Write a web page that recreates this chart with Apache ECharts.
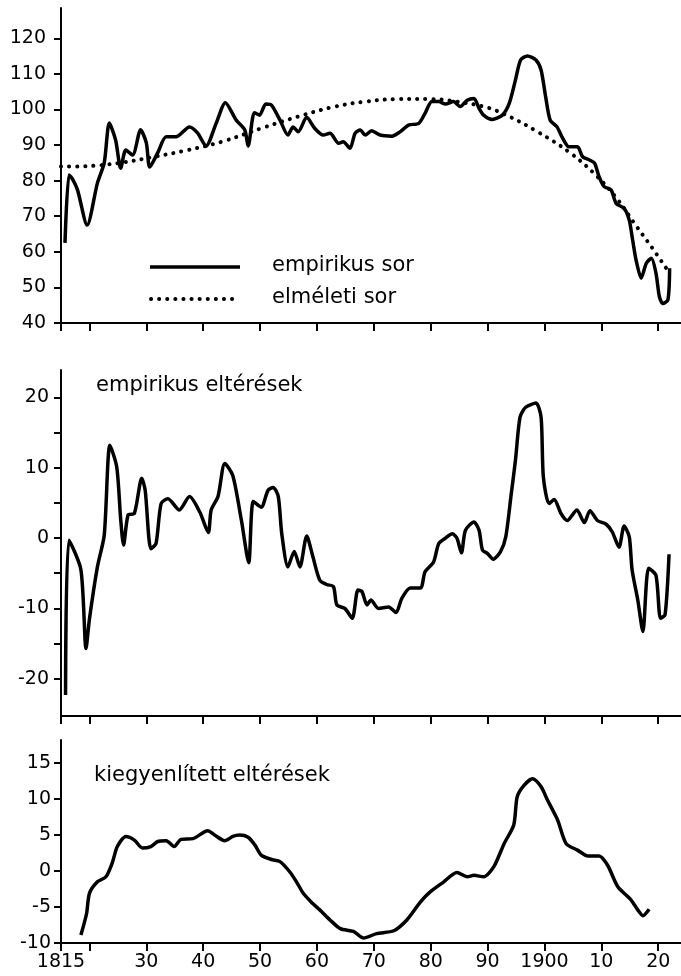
<!DOCTYPE html>
<html>
<head>
<meta charset="utf-8">
<script src="https://cdn.jsdelivr.net/npm/echarts@6/dist/echarts.min.js"></script>
<style>
html, body { margin: 0; padding: 0; background: #fff; }
#chart { width: 681px; height: 976px; }
</style>
</head>
<body>
<div id="chart"></div>
<script>
// empirikus sor (top panel)
const empYears = [1815.7, 1816.4, 1817.0, 1817.9, 1819.6, 1821.4, 1822.6, 1823.5, 1824.6, 1825.5, 1826.4, 1827.6, 1829.0, 1830.0, 1830.6, 1832.0, 1833.5, 1835.2, 1837.6, 1839.0, 1840.5, 1842.3, 1843.9, 1845.8, 1847.3, 1847.9, 1849.0, 1849.9, 1851.0, 1852.0, 1853.5, 1854.9, 1855.8, 1856.7, 1858.2, 1859.6, 1861.1, 1862.3, 1863.8, 1864.6, 1865.8, 1866.7, 1867.6, 1868.5, 1869.6, 1871.1, 1873.2, 1874.6, 1876.1, 1877.9, 1879.0, 1880.2, 1881.4, 1882.6, 1884.0, 1885.2, 1886.4, 1887.6, 1888.5, 1889.3, 1890.8, 1892.6, 1893.8, 1894.9, 1895.8, 1897.0, 1898.5, 1899.4, 1900.2, 1901.0, 1902.2, 1903.2, 1904.3, 1905.8, 1906.7, 1907.9, 1908.8, 1909.6, 1910.5, 1911.7, 1912.6, 1914.0, 1914.9, 1915.5, 1916.1, 1917.0, 1917.9, 1918.8, 1919.6, 1920.2, 1920.8, 1921.7, 1922.0];
const empValues = [62.5, 81.6, 80.5, 77.4, 67.5, 79.3, 85, 96.2, 91.4, 83.5, 88.6, 87.2, 94.3, 90.6, 83.8, 87.8, 92.3, 92.3, 95.1, 93.4, 89.7, 96.2, 101.9, 97, 94.3, 89.7, 99.1, 98.4, 101.5, 101.2, 97, 92.8, 95.1, 93.7, 97.8, 94.7, 92.8, 93.3, 90.5, 90.9, 89.1, 93.3, 94.2, 92.8, 94, 92.8, 92.5, 93.7, 95.6, 96.1, 98.9, 102.2, 102.2, 101.5, 102.2, 100.8, 102.6, 103.1, 100.3, 98.4, 97.2, 98.4, 101.7, 108.3, 113.9, 115, 113.9, 111.1, 103.6, 97, 95.1, 91.9, 89.5, 89.5, 86.7, 85.8, 84.9, 81.1, 78.3, 77.4, 73.6, 72.2, 68.9, 63.3, 57.7, 52.6, 56.8, 58.2, 54, 47.4, 45.5, 46.5, 55.4];

// elméleti sor (dotted)
const theoYears = [1815, 1818, 1821, 1825.5, 1831.4, 1837.3, 1843.2, 1850.8, 1856.7, 1862.6, 1868.5, 1874.4, 1880.2, 1884.5, 1889.3, 1892.9, 1898.8, 1904.6, 1909.3, 1912.9, 1915.8, 1918.8, 1921.4];
const theoValues = [84, 84, 84.2, 85, 86.7, 88.6, 90.9, 95, 98, 100.6, 102.2, 102.9, 102.9, 102.2, 100.8, 98.7, 93.7, 87.7, 81.1, 74.6, 68, 61.4, 55.4];

// empirikus eltérések (middle panel)
const devYears = [1815.8, 1816.4, 1818.5, 1819.4, 1820.0, 1821.4, 1822.6, 1823.6, 1824.8, 1825.5, 1826.0, 1826.8, 1827.9, 1829.2, 1829.8, 1830.8, 1831.7, 1832.6, 1833.8, 1835.8, 1837.6, 1839.4, 1840.9, 1841.4, 1842.6, 1843.8, 1845.2, 1846.7, 1848.0, 1848.8, 1850.2, 1851.4, 1852.3, 1853.2, 1853.8, 1854.9, 1856.0, 1857.0, 1858.2, 1859.3, 1860.5, 1861.7, 1862.9, 1863.5, 1864.9, 1866.2, 1867.2, 1867.9, 1868.8, 1869.5, 1870.8, 1872.6, 1873.9, 1874.9, 1876.4, 1878.2, 1879.0, 1880.5, 1881.4, 1882.6, 1883.8, 1884.6, 1885.4, 1886.1, 1887.6, 1888.5, 1889.1, 1890.0, 1891.0, 1892.3, 1893.2, 1894.1, 1894.9, 1895.7, 1896.7, 1898.5, 1899.4, 1899.8, 1900.8, 1901.7, 1902.9, 1904.0, 1905.7, 1907.0, 1908.0, 1909.3, 1910.8, 1911.9, 1913.1, 1914.0, 1914.9, 1915.4, 1916.4, 1917.3, 1918.3, 1919.6, 1920.4, 1921.2, 1921.9];
const devValues = [-22.3, -0.3, -4.5, -15.7, -11.5, -4.1, 0.4, 13.2, 10.1, 2.6, -1, 3.3, 3.5, 8.5, 6.8, -1.5, -0.8, 4.9, 5.6, 4, 5.9, 3.7, 0.8, 4, 5.9, 10.6, 8.9, 2.6, -3.5, 5.2, 4.4, 6.8, 7.2, 5.9, 0.7, -4.1, -1.9, -4.1, 0.3, -2.7, -6, -6.6, -6.9, -9.5, -10, -11.4, -7.4, -7.6, -9.5, -8.8, -10, -9.8, -10.6, -8.6, -7.1, -7.1, -4.8, -3.4, -0.8, 0, 0.6, 0, -2.1, 1.1, 2.3, 1.1, -1.7, -2.2, -3, -1.9, 0.2, 5.9, 11.1, 17.2, 18.6, 19.2, 17.2, 8.7, 4.9, 5.5, 3.5, 2.5, 4, 2.2, 3.9, 2.5, 2, 0.9, -1.3, 1.7, 0.2, -4.5, -8.8, -13.3, -4.3, -5.3, -11.4, -10.9, -2.3];

// kiegyenlített eltérések (bottom panel)
const smYears = [1818.5, 1819.5, 1820.0, 1821.4, 1822.9, 1824.0, 1824.9, 1826.4, 1827.9, 1829.3, 1830.8, 1832.0, 1833.5, 1834.9, 1836.1, 1838.2, 1840.8, 1842.0, 1843.8, 1845.2, 1846.4, 1847.9, 1849.1, 1850.2, 1852.0, 1853.5, 1855.2, 1856.4, 1857.6, 1859.1, 1860.5, 1862.3, 1864.1, 1866.4, 1868.2, 1870.5, 1873.5, 1875.8, 1878.2, 1879.9, 1882.3, 1884.6, 1886.4, 1887.6, 1889.3, 1891.1, 1892.9, 1894.6, 1895.2, 1896.4, 1897.9, 1899.4, 1900.5, 1902.3, 1903.8, 1905.8, 1907.6, 1909.6, 1911.1, 1912.9, 1915.2, 1916.4, 1917.3, 1918.4];
const smValues = [-8.9, -5.9, -3.1, -1.5, -0.8, 1.1, 3.4, 4.8, 4.3, 3.2, 3.4, 4.1, 4.2, 3.4, 4.4, 4.5, 5.6, 5, 4.2, 4.8, 5, 4.7, 3.6, 2.2, 1.6, 1.3, -0.1, -1.5, -3.1, -4.4, -5.4, -6.8, -8, -8.4, -9.3, -8.7, -8.3, -6.8, -4.3, -2.9, -1.5, -0.2, -0.8, -0.6, -0.8, 0.6, 3.8, 6.4, 10.3, 11.9, 12.8, 11.7, 9.9, 7.1, 3.8, 2.9, 2.1, 2.1, 0.8, -2.2, -4, -5.4, -6.2, -5.3];

// axis ticks / labels
const xTickValues = [1815, 1820, 1830, 1840, 1850, 1860, 1870, 1880, 1890, 1900, 1910, 1920];
const xLabelValues = [1815, 1830, 1840, 1850, 1860, 1870, 1880, 1890, 1900, 1910, 1920];
const xLabelTexts = ['1815', '30', '40', '50', '60', '70', '80', '90', '1900', '10', '20'];
const topTicks = [40, 50, 60, 70, 80, 90, 100, 110, 120];
const midTicks = [-20, -15, -10, -5, 0, 5, 10, 15, 20];
const midLabels = [-20, -10, 0, 10, 20];
const botTicks = [-10, -5, 0, 5, 10, 15];

const font = 'DejaVu Sans';
const zip = (xs, ys) => xs.map((x, i) => [x, ys[i]]);

const chart = echarts.init(document.getElementById('chart'));

function xAxisFor(gridIndex, withLabels) {
  return {
    type: 'value', gridIndex: gridIndex, min: 1815, max: 1924,
    axisLine: { show: true, onZero: false, lineStyle: { color: '#000', width: 2 } },
    axisTick: { show: true, customValues: xTickValues, length: 8, lineStyle: { color: '#000', width: 2 } },
    axisLabel: withLabels ? {
      show: true, customValues: xLabelValues, color: '#000', fontSize: 19, fontFamily: font, margin: 10,
      formatter: v => xLabelTexts[xLabelValues.indexOf(v)]
    } : { show: false },
    splitLine: { show: false }
  };
}

function yAxisFor(gridIndex, min, max, ticks, labels, margin) {
  return {
    type: 'value', gridIndex: gridIndex, min: min, max: max,
    axisLine: { show: true, onZero: false, lineStyle: { color: '#000', width: 2 } },
    axisTick: { show: true, customValues: ticks, length: 7, lineStyle: { color: '#000', width: 2 } },
    axisLabel: { show: true, customValues: labels, color: '#000', fontSize: 19, fontFamily: font, margin: margin },
    splitLine: { show: false }
  };
}

const lineBase = { type: 'line', symbol: 'none', smooth: 0.25, silent: true, animation: false };
const bigText = { fontSize: 21, fontWeight: 'normal', color: '#000', fontFamily: font };

chart.setOption({
  backgroundColor: '#fff',
  animation: false,
  textStyle: { fontFamily: font },
  title: [
    { text: 'empirikus eltérések', left: 91, top: 370, textStyle: bigText },
    { text: 'kiegyenlített eltérések', left: 89, top: 760, textStyle: bigText }
  ],
  // legend drawn by hand (sample line + label)
  graphic: [
    { type: 'line', shape: { x1: 150, y1: 267, x2: 240, y2: 267 }, style: { stroke: '#000', lineWidth: 3.5 } },
    { type: 'line', shape: { x1: 151, y1: 299, x2: 239, y2: 299 }, style: { stroke: '#000', lineWidth: 4, lineDash: [0.1, 8], lineCap: 'round' } },
    { type: 'text', x: 272, y: 266, style: { text: 'empirikus sor', fontSize: 21, fontFamily: font, fill: '#000', verticalAlign: 'middle' } },
    { type: 'text', x: 272, y: 298, style: { text: 'elméleti sor', fontSize: 21, fontFamily: font, fill: '#000', verticalAlign: 'middle' } }
  ],
  grid: [
    { left: 61, right: 0, top: 8, height: 315, outerBoundsMode: 'none' },
    { left: 61, right: 0, top: 370, height: 346, outerBoundsMode: 'none' },
    { left: 61, right: 0, top: 740, height: 203, outerBoundsMode: 'none' }
  ],
  xAxis: [xAxisFor(0, false), xAxisFor(1, false), xAxisFor(2, true)],
  yAxis: [
    yAxisFor(0, 40, 128.5, topTicks, topTicks, 15),
    yAxisFor(1, -25.3, 23.9, midTicks, midLabels, 12),
    yAxisFor(2, -10, 18.2, botTicks, botTicks, 10)
  ],
  series: [
    Object.assign({}, lineBase, {
      name: 'empirikus sor', xAxisIndex: 0, yAxisIndex: 0,
      data: zip(empYears, empValues),
      lineStyle: { color: '#000', width: 3.5, join: 'round' }
    }),
    Object.assign({}, lineBase, {
      name: 'elméleti sor', xAxisIndex: 0, yAxisIndex: 0, smooth: 0.4,
      data: zip(theoYears, theoValues),
      lineStyle: { color: '#000', width: 4, type: [0.1, 8], cap: 'round' }
    }),
    Object.assign({}, lineBase, {
      name: 'empirikus eltérések', xAxisIndex: 1, yAxisIndex: 1,
      data: zip(devYears, devValues),
      lineStyle: { color: '#000', width: 3.5, join: 'round' }
    }),
    Object.assign({}, lineBase, {
      name: 'kiegyenlített eltérések', xAxisIndex: 2, yAxisIndex: 2,
      data: zip(smYears, smValues),
      lineStyle: { color: '#000', width: 3.5, join: 'round' }
    })
  ]
});
</script>
</body>
</html>
